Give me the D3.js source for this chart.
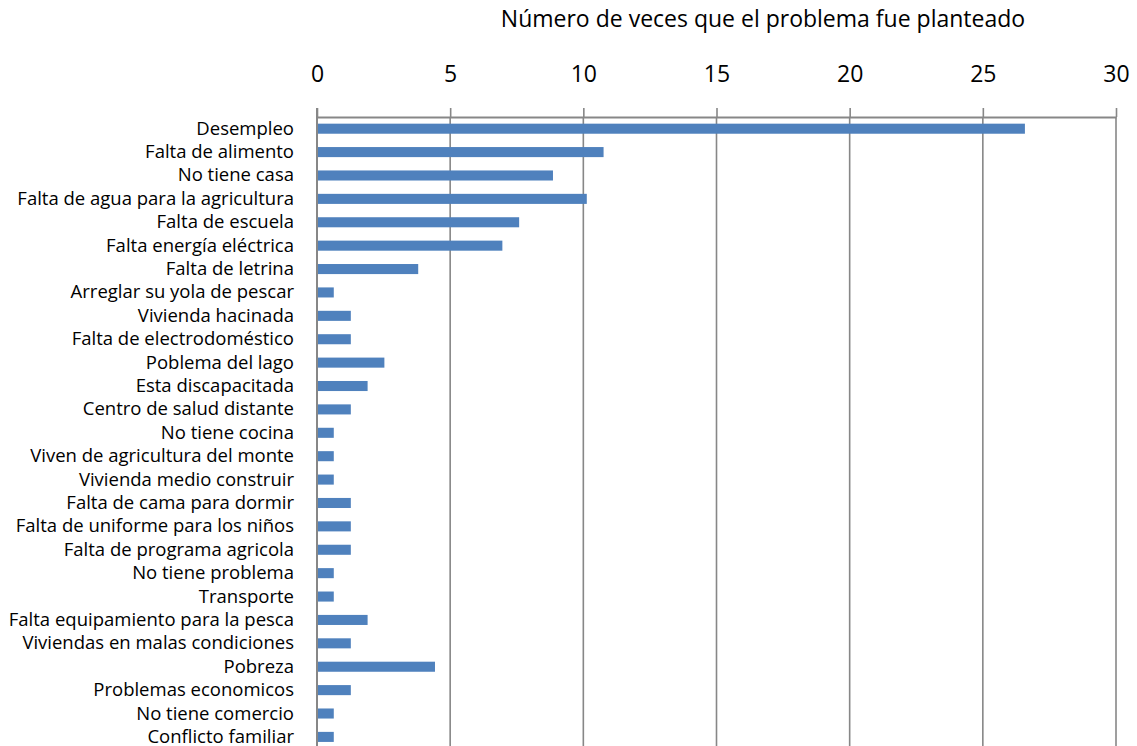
<!DOCTYPE html>
<html>
<head>
  <title>Problemas planteados</title>
  <script src="https://d3js.org/d3.v7.min.js"></script>
</head>
<body style="margin:0px; overflow:hidden; background:#fff;">
  <svg id="chart" width="1137" height="746"></svg>
  <script>
    // Data
    const categories = [
      "Desempleo", "Falta de alimento", "No tiene casa", "Falta de agua para la agricultura",
      "Falta de escuela", "Falta energía eléctrica", "Falta de letrina", "Arreglar su yola de pescar",
      "Vivienda hacinada", "Falta de electrodoméstico", "Poblema del lago", "Esta discapacitada ",
      "Centro de salud distante", "No tiene cocina", "Viven de agricultura del monte",
      "Vivienda medio construir", "Falta de cama para dormir", "Falta de uniforme para los niños",
      "Falta de programa agricola", "No tiene problema", "Transporte",
      "Falta equipamiento para la pesca", "Viviendas en malas condiciones", "Pobreza",
      "Problemas economicos", "No tiene comercio", "Conflicto familiar"
    ];
    const values = [
      26.58, 10.76, 8.86, 10.13, 7.59, 6.96, 3.80, 0.63,
      1.27, 1.27, 2.53, 1.90, 1.27, 0.63, 0.63,
      0.63, 1.27, 1.27, 1.27, 0.63, 0.63,
      1.90, 1.27, 4.43, 1.27, 0.63, 0.63
    ];
    const xTicks = [0, 5, 10, 15, 20, 25, 30];
    const title = "Número de veces que el problema fue planteado";

    const data = categories.map((c, i) => ({ cat: c, val: values[i] }));

    // Layout
    const plotLeft = 317, plotRight = 1116, plotTop = 117, plotBottom = 748.6;
    const font = "'Open Sans', 'Liberation Sans', sans-serif";
    const gray = "#878787";

    const svg = d3.select("#chart");

    const x = d3.scaleLinear().domain([0, 30]).range([plotLeft, plotRight]);
    const y = d3.scaleBand()
      .domain(d3.range(categories.length))
      .range([plotTop, plotBottom])
      .paddingInner(0.57)
      .paddingOuter(0.285);

    // Vertical gridlines
    svg.append("g")
      .selectAll("line")
      .data(xTicks.slice(1))
      .enter().append("line")
      .attr("x1", d => x(d)).attr("x2", d => x(d))
      .attr("y1", plotTop).attr("y2", 746)
      .attr("stroke", gray)
      .attr("stroke-width", 1.6);

    // Top axis
    const xAxis = svg.append("g")
      .attr("transform", "translate(0," + plotTop + ")")
      .call(d3.axisTop(x).tickValues(xTicks).tickSize(9).tickPadding(26).tickSizeOuter(0));
    xAxis.select(".domain").attr("stroke", gray).attr("stroke-width", 2);
    xAxis.selectAll(".tick line").attr("stroke", gray).attr("stroke-width", 1.6);
    xAxis.selectAll(".tick text")
      .attr("fill", "#000")
      .style("font-family", font)
      .style("font-size", "23px");

    // Left axis line
    svg.append("line")
      .attr("x1", plotLeft).attr("x2", plotLeft)
      .attr("y1", plotTop - 9).attr("y2", 746)
      .attr("stroke", gray)
      .attr("stroke-width", 2);

    // Bars
    svg.append("g")
      .selectAll("rect")
      .data(data)
      .enter().append("rect")
      .attr("x", plotLeft + 1)
      .attr("y", (d, i) => y(i))
      .attr("width", d => x(d.val) - plotLeft - 1)
      .attr("height", y.bandwidth())
      .attr("fill", "#4F81BD");

    // Category labels
    svg.append("g")
      .selectAll("text")
      .data(data)
      .enter().append("text")
      .attr("x", 294)
      .attr("y", (d, i) => y(i) + y.bandwidth() / 2 + 6)
      .attr("text-anchor", "end")
      .style("font-family", font)
      .style("font-size", "18.5px")
      .attr("fill", "#000")
      .text(d => d.cat);

    // Title
    svg.append("text")
      .attr("x", 763)
      .attr("y", 27)
      .attr("text-anchor", "middle")
      .style("font-family", font)
      .style("font-size", "23px")
      .attr("fill", "#000")
      .text(title);
  </script>
</body>
</html>
